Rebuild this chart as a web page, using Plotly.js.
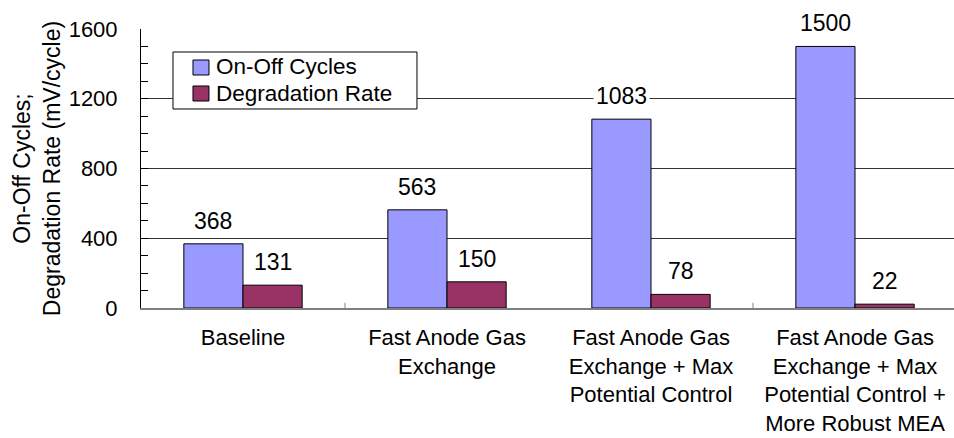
<!DOCTYPE html>
<html>
<head>
<meta charset="utf-8">
<script src="https://cdn.plot.ly/plotly-3.0.1.min.js"></script>
<style>html,body{margin:0;padding:0;background:#fff;overflow:hidden}</style>
</head>
<body>
<div id="chart" style="width:957px;height:438px"></div>
<script>
// Start-up/shut-down strategies and their effect on durability
const categories = [
  "Baseline",
  "Fast Anode Gas<br>Exchange",
  "Fast Anode Gas<br>Exchange + Max<br>Potential Control",
  "Fast Anode Gas<br>Exchange + Max<br>Potential Control +<br>More Robust MEA"
];
const seriesNames = ["On-Off Cycles", "Degradation Rate"];
const seriesColors = ["#9999FF", "#993366"];
const onOffCycles = [368, 563, 1083, 1500];
const degradationRate = [131, 150, 78, 22];

const FONT = "Liberation Sans, Arial, sans-serif";
const FS = 23;
const bargap = 0.42;
const barW = (1 - bargap) / 2;
const idx = categories.map((_, i) => i);
const series = [onOffCycles, degradationRate];

const traces = series.map((vals, s) => ({
  type: "bar", name: seriesNames[s], x: idx, y: vals, showlegend: false,
  marker: {color: seriesColors[s], line: {color: "#000", width: 1}}
}));

// value labels centred over each bar, with a white backing that breaks the gridlines
const annotations = [];
series.forEach((vals, s) => {
  vals.forEach((v, i) => {
    annotations.push({
      x: i + (s === 0 ? -barW / 2 : barW / 2), y: v, xref: "x", yref: "y",
      text: String(v), showarrow: false, yanchor: "bottom", yshift: 7,
      bgcolor: "#fff", borderpad: 2,
      font: {family: FONT, size: FS, color: "#000"}
    });
  });
});

// compact boxed legend in the upper-left corner of the plot area
const shapes = [{
  type: "rect", xref: "paper", yref: "paper",
  x0: 0.0392, x1: 0.3382, y0: 0.7133, y1: 0.9176,
  fillcolor: "#fff", line: {color: "#000", width: 1}, layer: "above"
}];
const keyRows = [[0.8889, 0.8351, 0.8638], [0.7957, 0.7419, 0.7706]];
seriesNames.forEach((name, s) => {
  const [top, bot, mid] = keyRows[s];
  shapes.push({
    type: "rect", xref: "paper", yref: "paper",
    x0: 0.0637, x1: 0.0833, y0: bot, y1: top,
    fillcolor: seriesColors[s], line: {color: "#000", width: 1}, layer: "above"
  });
  annotations.push({
    xref: "paper", yref: "paper", x: 0.0907, y: mid, xanchor: "left", yanchor: "middle",
    text: name, showarrow: false, borderpad: 0,
    font: {family: FONT, size: 22.5, color: "#000"}
  });
});

// short divider ticks between category groups
[0.5, 2.5].forEach(b => shapes.push({
  type: "line", xref: "x", yref: "y", x0: b, x1: b, y0: 0, y1: 30,
  line: {color: "#808080", width: 1}
}));

const layout = {
  width: 957, height: 438,
  margin: {l: 141, r: 0, t: 29, b: 130},
  paper_bgcolor: "#fff", plot_bgcolor: "#fff",
  barmode: "group", bargap: bargap, bargroupgap: 0,
  font: {family: FONT, size: FS, color: "#000"},
  showlegend: false,
  xaxis: {
    type: "linear", range: [-0.5, 3.5],
    tickmode: "array", tickvals: idx, ticktext: categories,
    ticks: "", showgrid: false, zeroline: false,
    showline: true, linecolor: "#808080", linewidth: 1.5,
    ticklabelstandoff: 9,
    tickfont: {family: FONT, size: 22, color: "#000"}
  },
  yaxis: {
    range: [0, 1600], tickmode: "linear", tick0: 0, dtick: 400,
    ticks: "inside", ticklen: 7, tickcolor: "#000",
    minor: {dtick: 100, ticks: "inside", ticklen: 7, tickcolor: "#000", showgrid: false},
    showgrid: true, gridcolor: "#333", gridwidth: 1,
    zeroline: false, showline: true, linecolor: "#000", linewidth: 1,
    ticklabelstandoff: 18,
    tickfont: {family: FONT, size: 22, color: "#000"},
    title: {text: "On-Off Cycles;<br>Degradation Rate (mV/cycle)",
            font: {family: FONT, size: FS, color: "#000"}, standoff: 1}
  },
  annotations: annotations,
  shapes: shapes
};

Plotly.newPlot("chart", traces, layout, {staticPlot: true, displayModeBar: false});
</script>
</body>
</html>
